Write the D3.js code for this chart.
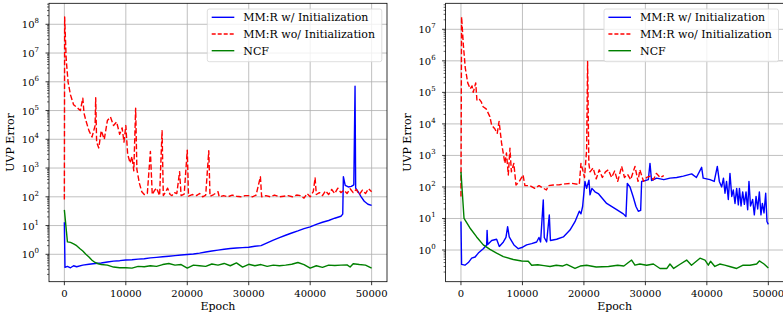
<!DOCTYPE html>
<html>
<head>
<meta charset="utf-8">
<script src="https://cdn.jsdelivr.net/npm/d3@7"></script>
<style>
    body { margin: 0; background: #fff; }
    svg { display: block; }
    text { font-family: 'DejaVu Serif'; fill: #000; }
    .grid line { stroke: #b0b0b0; stroke-width: 0.8; }
    .frame { fill: none; stroke: #000; stroke-width: 0.8; }
    .tick line { stroke: #000; stroke-width: 0.8; }
    .ticklabel { font-size: 10px; }
    .label { font-size: 11px; }
</style>
</head>
<body>
<script>

// DATA

// left panel
const leftRedEpoch = [0, 50, 300, 600, 1000, 1500, 2000, 2600, 3000, 3200, 3500, 4000, 4500, 5000, 5100, 5250,
    5600, 6000, 6500, 7000, 7500, 8000, 8500, 9000, 9400, 9700, 10000, 10300, 10700, 11000, 11300, 11600,
    11800, 12200, 12600, 13000, 13500, 14000, 14300, 14700, 15000, 15500, 15900, 16100, 16500, 16800, 17200,
    17500, 17900, 18300, 18750, 19000, 19500, 20000, 20200, 20800, 21500, 22000, 22500, 23000, 23500, 23700,
    24300, 25000, 25200, 25900, 26600, 27300, 28000, 28700, 29400, 30000, 30600, 31200, 31900, 32100, 32800,
    33500, 34200, 35000, 35700, 36400, 37100, 37800, 38400, 39000, 39500, 40000, 40500, 40800, 41000, 41500,
    42000, 42500, 43000, 43500, 44000, 44500, 45000, 45500, 46000, 46500, 47000, 47500, 48000, 48500, 49000,
    49500, 50000];
const leftRed = [80, 1.8e8, 6e6, 1e6, 3.5e5, 1.6e5, 1.3e5, 1e5, 2.7e5, 8e4, 4.5e4, 2e4, 1.2e4, 3e4, 2.8e5, 8e3,
    5e3, 2e4, 1e4, 4.5e4, 6e4, 3e4, 4e4, 1.5e4, 2.5e4, 8e3, 3e4, 3e3, 1.5e3, 2.5e3, 800, 1.2e5,
    900, 300, 150, 120, 130, 3.8e3, 120, 170, 200, 110, 2e4, 110, 150, 200, 120,
    110, 140, 130, 750, 110, 125, 4.2e3, 105, 120, 110, 130, 100, 115, 4e3, 105,
    120, 150, 100, 110, 100, 115, 105, 100, 110, 110, 100, 115, 500, 100, 110,
    100, 115, 100, 105, 110, 100, 115, 110, 90, 130, 100, 150, 450, 120, 140,
    110, 160, 120, 180, 130, 200, 140, 170, 130, 190, 140, 180, 120, 170, 130,
    190, 150];

const leftBlueEpoch = [0, 100, 500, 1000, 1500, 2000, 3000, 4000, 5000, 6000, 7000, 8000, 9000, 10000, 11000,
    12000, 13000, 14000, 15000, 16000, 17000, 18000, 19000, 20000, 21000, 22000, 23000, 24000, 25000, 26000,
    27000, 28000, 29000, 30000, 31000, 32000, 33000, 34000, 35000, 36000, 37000, 38000, 39000, 40000, 41000,
    42000, 43000, 44000, 45000, 45300, 45400, 45700, 46200, 46700, 47100, 47300, 47400, 47800, 48300, 48800,
    49400, 50000];
const leftBlue = [13, 0.35, 0.38, 0.34, 0.4, 0.37, 0.42, 0.45, 0.48, 0.5, 0.54, 0.58, 0.6, 0.63, 0.65,
    0.68, 0.7, 0.75, 0.78, 0.82, 0.86, 0.9, 0.95, 0.98, 1.02, 1.1, 1.2, 1.3, 1.4, 1.5,
    1.6, 1.65, 1.7, 1.75, 1.9, 2.0, 2.5, 3.1, 3.8, 4.6, 5.5, 6.5, 7.8, 9.0, 11,
    13, 15, 18, 21, 25, 500, 250, 220, 230, 260, 7e5, 200, 150, 100, 70,
    55, 50];

const leftGreenEpoch = [0, 500, 1000, 1500, 2000, 2500, 3000, 3500, 4000, 4500, 5000, 5500, 6000, 7000, 8000,
    9000, 10000, 11000, 12000, 13000, 14000, 15000, 16000, 17000, 18000, 19000, 20000, 21000, 22000, 23000,
    24000, 25000, 26000, 27000, 28000, 29000, 30000, 31000, 32000, 33000, 34000, 35000, 36000, 37000, 38000,
    39000, 40000, 41000, 42000, 43000, 44000, 45000, 46000, 46500, 47000, 48000, 49000, 50000];
const leftGreen = [35, 2.7, 2.6, 2.3, 2.0, 1.6, 1.3, 1.0, 0.8, 0.62, 0.52, 0.47, 0.44, 0.42, 0.36,
    0.34, 0.34, 0.33, 0.38, 0.37, 0.4, 0.38, 0.44, 0.48, 0.42, 0.44, 0.33, 0.42, 0.4, 0.38,
    0.46, 0.42, 0.48, 0.4, 0.5, 0.36, 0.45, 0.4, 0.44, 0.38, 0.42, 0.4, 0.42, 0.45, 0.52,
    0.44, 0.33, 0.4, 0.35, 0.42, 0.41, 0.42, 0.43, 0.36, 0.47, 0.44, 0.42, 0.33];

// right panel
const rightRedEpoch = [0, 100, 400, 700, 1100, 1500, 1800, 2000, 2400, 2600, 3000, 3300, 3600, 4100, 4700, 5000,
    5500, 5900, 6200, 6600, 7150, 7400, 7700, 7970, 8200, 8600, 8950, 9500, 10100, 10400, 11200, 12000,
    12700, 13900, 14200, 15000, 16000, 17000, 18000, 19250, 19520, 19800, 20100, 20440, 20600, 20800,
    21000, 21500, 22000, 22500, 23000, 23500, 23970, 24500, 25000, 25500, 26140, 26600, 27100, 27600,
    28310, 28800, 29100, 29700, 30200, 30800, 31300, 31800, 32400, 33000];
const rightRed = [50, 2.5e7, 3e6, 6e5, 2e5, 1.3e5, 1.6e5, 1e5, 2e5, 5.5e4, 6e4, 5e4, 3.5e4, 3e4, 1.7e4, 9e3,
    7e3, 5e3, 1.2e4, 2.5e3, 560, 1.2e3, 240, 1.7e3, 300, 560, 115, 150, 240, 110, 110, 90,
    110, 80, 110, 115, 118, 125, 130, 120, 560, 350, 200, 1.5e3, 9.5e5, 560,
    300, 400, 180, 350, 200, 300, 350, 200, 320, 150, 450, 200, 250, 170,
    450, 150, 350, 150, 200, 220, 170, 270, 200, 230];

const rightBlueEpoch = [0, 100, 650, 1200, 1740, 2300, 2820, 3630, 4180, 4250, 4350, 5000, 5800, 6240, 6900,
    7320, 7590, 7850, 8200, 8620, 9330, 9900, 10680, 11500, 12310, 12690, 12950, 13390, 13550, 13940,
    14370, 14550, 15560, 16650, 17730, 18550, 19250, 19520, 19790, 20170, 20440, 20820, 20990, 21300,
    21800, 22400, 23700, 25330, 26410, 26840, 27060, 27500, 28000, 28470, 28850, 29230, 29390, 30000,
    30480, 30750, 31000, 31830, 33000, 34000, 35090, 36170, 37530, 38300, 39150, 39400, 40510, 41200,
    41700, 42030, 42410, 42700, 42950, 43200, 43490, 43760, 44050, 44300, 44580, 44850, 45120, 45300,
    45560, 45830, 46100, 46370, 46640, 46850, 47100, 47450, 47720, 48000, 48270, 48540, 48800, 49030,
    49300, 49570, 49780, 50000];
const rightBlue = [8, 0.35, 0.33, 0.4, 0.55, 0.6, 0.8, 1.1, 1.45, 4.2, 1.5, 2.0, 2.2, 1.3, 1.8,
    2.5, 5.5, 2.6, 2.0, 1.45, 1.1, 1.2, 1.45, 1.6, 1.8, 2.5, 1.8, 39, 2.5, 1.8,
    13, 2.0, 2.2, 2.6, 4.3, 7.9, 17, 14, 24, 150, 90, 165, 56, 90,
    70, 60, 30, 19, 14, 11.5, 130, 100, 50, 24, 17, 18, 150, 160,
    170, 560, 160, 190, 170, 190, 200, 220, 260, 200, 420, 190, 170, 150,
    450, 150, 100, 190, 63, 150, 40, 270, 50, 80, 30, 90, 27, 90,
    25, 70, 28, 70, 19, 150, 25, 40, 13, 50, 20, 70, 13, 30,
    15, 63, 8, 6.5];

const rightGreenEpoch = [0, 500, 1460, 2550, 3630, 4720, 5800, 6890, 8510, 9870, 10950, 11500, 12500, 13500,
    14480, 15500, 16500, 17200, 18550, 19400, 20440, 22000, 24000, 25500, 26500, 27760, 28300, 29100,
    30200, 31300, 32380, 33500, 34000, 34600, 35700, 36710, 37500, 38880, 39700, 40240, 40600, 41300,
    42100, 42900, 43700, 44850, 45900, 47000, 48100, 48540, 49300, 50000];
const rightGreen = [300, 10, 5, 2.6, 1.45, 1.05, 0.8, 0.62, 0.5, 0.45, 0.44, 0.33, 0.34, 0.32,
    0.3, 0.33, 0.31, 0.35, 0.26, 0.31, 0.33, 0.29, 0.3, 0.33, 0.31, 0.48, 0.33, 0.36,
    0.33, 0.36, 0.26, 0.26, 0.36, 0.26, 0.36, 0.48, 0.33, 0.55, 0.48, 0.33, 0.44, 0.3,
    0.36, 0.33, 0.3, 0.26, 0.33, 0.33, 0.36, 0.45, 0.36, 0.27];

const xTicks = [0, 10000, 20000, 30000, 40000, 50000];
const legendNames = ['MM:R w/ Initialization', 'MM:R wo/ Initialization', 'NCF'];


// STYLE

const seriesStyle = [
    {color: '#0000ff', dash: null},
    {color: '#ff0000', dash: '5.5,2.4'},
    {color: '#008000', dash: null}
];

const width = 783, height = 315;

const svg = d3.select('body')
    .append('svg')
    .attr('width', width)
    .attr('height', height);


// PANELS

drawPanel({
    id: 'left',
    left: 49, right: 387, top: 3.3, bottom: 281.7,
    yLog: [-0.953, 8.73],
    yMajor: d3.range(0, 9),
    legendX: 207.3,
    series: [
        [leftBlueEpoch, leftBlue],
        [leftRedEpoch, leftRed],
        [leftGreenEpoch, leftGreen]
    ]
});

drawPanel({
    id: 'right',
    left: 445.6, right: 783.7, top: 3.3, bottom: 281.7,
    yLog: [-1.005, 7.825],
    yMajor: d3.range(0, 8),
    legendX: 604,
    series: [
        [rightBlueEpoch, rightBlue],
        [rightRedEpoch, rightRed],
        [rightGreenEpoch, rightGreen]
    ]
});


function drawPanel(cfg){

    const x = d3.scaleLinear()
        .domain([-2500, 52500])
        .range([cfg.left, cfg.right]);

    const y = d3.scaleLog()
        .domain([Math.pow(10, cfg.yLog[0]), Math.pow(10, cfg.yLog[1])])
        .range([cfg.bottom, cfg.top]);

    const g = svg.append('g').attr('class', 'panel ' + cfg.id);

    g.append('clipPath')
        .attr('id', 'clip-' + cfg.id)
        .append('rect')
        .attr('x', cfg.left)
        .attr('y', cfg.top)
        .attr('width', cfg.right - cfg.left)
        .attr('height', cfg.bottom - cfg.top);

    // grid
    const grid = g.append('g').attr('class', 'grid');
    grid.selectAll('.gx')
        .data(xTicks)
        .enter()
        .append('line')
        .attr('x1', d => x(d)).attr('x2', d => x(d))
        .attr('y1', cfg.top).attr('y2', cfg.bottom);
    grid.selectAll('.gy')
        .data(cfg.yMajor)
        .enter()
        .append('line')
        .attr('x1', cfg.left).attr('x2', cfg.right)
        .attr('y1', d => y(Math.pow(10, d))).attr('y2', d => y(Math.pow(10, d)));

    // lines
    const line = d3.line()
        .x(d => x(d[0]))
        .y(d => y(d[1]));

    const plot = g.append('g').attr('clip-path', 'url(#clip-' + cfg.id + ')');
    cfg.series.forEach(function(s, i){
        const pts = s[0].map((e, j) => [e, s[1][j]]);
        plot.append('path')
            .datum(pts)
            .attr('d', line)
            .attr('fill', 'none')
            .attr('stroke', seriesStyle[i].color)
            .attr('stroke-width', 1.4)
            .attr('stroke-linejoin', 'round')
            .attr('stroke-dasharray', seriesStyle[i].dash);
    });

    // x ticks
    const xt = g.selectAll('.xt')
        .data(xTicks)
        .enter()
        .append('g')
        .attr('class', 'tick');
    xt.append('line')
        .attr('x1', d => x(d)).attr('x2', d => x(d))
        .attr('y1', cfg.bottom).attr('y2', cfg.bottom + 3.5);
    xt.append('text')
        .attr('class', 'ticklabel')
        .attr('x', d => x(d))
        .attr('y', cfg.bottom + 15)
        .attr('text-anchor', 'middle')
        .text(d => d);

    // y major ticks
    const yt = g.selectAll('.yt')
        .data(cfg.yMajor)
        .enter()
        .append('g')
        .attr('class', 'tick');
    yt.append('line')
        .attr('x1', cfg.left - 3.5).attr('x2', cfg.left)
        .attr('y1', d => y(Math.pow(10, d))).attr('y2', d => y(Math.pow(10, d)));
    const yl = yt.append('text')
        .attr('class', 'ticklabel')
        .attr('x', cfg.left - 10)
        .attr('y', d => y(Math.pow(10, d)) + 4)
        .attr('text-anchor', 'end');
    yl.append('tspan').text('10');
    yl.append('tspan')
        .attr('dy', -5)
        .style('font-size', '7px')
        .text(d => d);

    // y minor ticks
    const minors = [];
    for (let k = Math.floor(cfg.yLog[0]); k <= Math.ceil(cfg.yLog[1]); k++){
        for (let m = 2; m <= 9; m++){
            const v = m * Math.pow(10, k);
            if (Math.log10(v) > cfg.yLog[0] && Math.log10(v) < cfg.yLog[1]) minors.push(v);
        }
    }
    g.selectAll('.ym')
        .data(minors)
        .enter()
        .append('line')
        .attr('x1', cfg.left - 2).attr('x2', cfg.left)
        .attr('y1', d => y(d)).attr('y2', d => y(d))
        .style('stroke', '#000')
        .style('stroke-width', 0.6);

    // frame
    g.append('rect')
        .attr('class', 'frame')
        .attr('x', cfg.left)
        .attr('y', cfg.top)
        .attr('width', cfg.right - cfg.left)
        .attr('height', cfg.bottom - cfg.top);

    // axis titles
    g.append('text')
        .attr('class', 'label')
        .attr('x', x(25000))
        .attr('y', 310)
        .attr('text-anchor', 'middle')
        .text('Epoch');

    g.append('text')
        .attr('class', 'label')
        .attr('transform', 'translate(' + (cfg.left - 35) + ',' + ((cfg.top + cfg.bottom) / 2) + ') rotate(-90)')
        .attr('text-anchor', 'middle')
        .text('UVP Error');

    // legend
    const lg = g.append('g')
        .attr('transform', 'translate(' + cfg.legendX + ',9)');
    lg.append('rect')
        .attr('width', 174.5)
        .attr('height', 52.7)
        .attr('rx', 2)
        .attr('fill', 'rgba(255,255,255,0.8)')
        .attr('stroke', '#d5d5d5')
        .attr('stroke-width', 0.8);
    const items = lg.selectAll('.item')
        .data(legendNames)
        .enter()
        .append('g')
        .attr('transform', (d, i) => 'translate(0,' + (8.3 + i * 16.7) + ')');
    items.append('line')
        .attr('x1', 4.4).attr('x2', 27)
        .attr('stroke', (d, i) => seriesStyle[i].color)
        .attr('stroke-width', 1.4)
        .attr('stroke-dasharray', (d, i) => seriesStyle[i].dash ? '4,2' : null);
    items.append('text')
        .attr('class', 'label')
        .attr('x', 36)
        .attr('y', 4)
        .text(d => d);
}

</script>
</body>
</html>
